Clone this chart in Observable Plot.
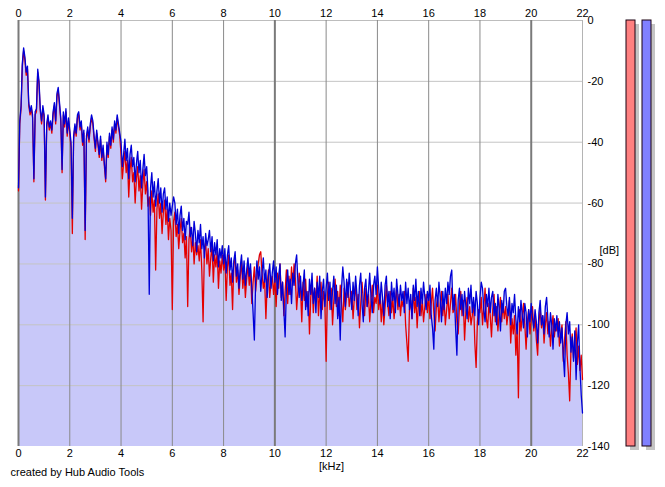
<!DOCTYPE html>
<html>
<head>
<meta charset="utf-8">
<script src="https://cdn.jsdelivr.net/npm/d3@7"></script>
<script src="https://cdn.jsdelivr.net/npm/@observablehq/plot@0.6"></script>
<style>
  body { margin: 0; background: white; }
  #wrap { position: relative; width: 665px; height: 487px; font-family: "Liberation Sans", Arial, sans-serif; }
  #wrap svg { position: absolute; top: 0; }
</style>
</head>
<body>
<div id="wrap"></div>
<script>
// Frequency bins (kHz), 0.05 kHz apart
const binStep = 0.05;
// Blue channel spectrum (dB), one row per kHz (20 bins), 0 .. 22 kHz
const blueDb = [
  -55, -33, -28, -14, -9, -12, -17, -15, -27, -30, -28, -31, -52, -30, -29, -16, -20, -29, -33, -28,
  -31, -58, -34, -31, -35, -33, -36, -30, -27, -33, -24, -22, -27, -32, -49, -30, -34, -29, -37, -32,
  -36, -40, -65, -38, -34, -37, -31, -30, -35, -33, -40, -36, -69, -38, -35, -39, -34, -31, -33, -38,
  -42, -36, -40, -44, -38, -45, -41, -47, -52, -40, -44, -37, -41, -35, -39, -33, -36, -31, -34, -37,
  -40, -48, -44, -39, -46, -42, -52, -44, -41, -48, -45, -53, -47, -43, -50, -46, -55, -49, -44, -51,
  -48, -56, -90, -55, -50, -58, -53, -61, -56, -52, -60, -55, -63, -57, -55, -62, -58, -66, -60, -64,
  -61, -58, -60, -67, -62, -70, -64, -61, -69, -65, -72, -66, -67, -63, -71, -68, -74, -66, -70, -76,
  -69, -73, -67, -75, -71, -78, -70, -74, -72, -69, -76, -71, -79, -73, -77, -72, -81, -75, -78, -74,
  -80, -75, -83, -77, -74, -82, -78, -86, -79, -76, -84, -80, -88, -81, -77, -85, -79, -87, -82, -78,
  -84, -80, -88, -96, -105, -86, -79, -85, -81, -89, -83, -78, -86, -82, -91, -84, -80, -88, -83, -79,
  -86, -81, -90, -84, -80, -92, -86, -95, -104, -88, -82, -90, -85, -93, -83, -87, -80, -77, -86, -91,
  -84, -92, -87, -82, -95, -89, -97, -85, -90, -83, -93, -88, -96, -86, -91, -84, -98, -89, -85, -94,
  -88, -83, -92, -86, -95, -89, -84, -93, -87, -98, -91, -105, -88, -81, -86, -94, -85, -91, -83, -89,
  -95, -86, -92, -84, -90, -97, -87, -83, -93, -99, -88, -85, -94, -89, -83, -91, -96, -87, -84, -90,
  -81, -88, -93, -86, -91, -97, -87, -84, -94, -89, -98, -86, -92, -88, -96, -85, -90, -94, -87, -92,
  -89, -96, -86, -93, -88, -95, -90, -98, -87, -92, -85, -94, -89, -97, -88, -93, -86, -91, -95, -89,
  -92, -87, -97, -101, -108, -92, -88, -94, -86, -91, -99, -89, -95, -88, -93, -86, -90, -84, -82, -95,
  -90, -101, -110, -92, -88, -95, -90, -97, -89, -94, -98, -88, -93, -87, -96, -91, -97, -89, -93, -100,
  -91, -86, -88, -95, -99, -90, -94, -88, -96, -91, -89, -97, -93, -100, -90, -95, -102, -92, -96, -89,
  -88, -94, -97, -91, -100, -93, -96, -90, -98, -103, -94, -99, -92, -97, -101, -93, -96, -104, -95, -99,
  -93, -98, -101, -95, -99, -106, -96, -92, -100, -97, -103, -94, -91, -98, -104, -96, -100, -108, -98, -102,
  -97, -104, -99, -106, -101, -110, -117, -100, -96, -103, -99, -109, -104, -112, -102, -118, -106, -100, -114, -123,
  -129
];
// Red channel spectrum (dB), same bins
const redDb = [
  -56, -34, -29, -15, -10, -13, -18, -16, -28, -31, -29, -32, -53, -31, -30, -17, -21, -30, -34, -29,
  -32, -59, -35, -32, -36, -34, -37, -31, -28, -34, -25, -23, -28, -33, -50, -31, -35, -30, -38, -33,
  -37, -42, -70, -39, -35, -38, -32, -31, -36, -34, -41, -37, -72, -39, -36, -40, -35, -32, -34, -39,
  -43, -37, -41, -45, -39, -46, -42, -48, -53, -41, -45, -38, -42, -36, -40, -34, -37, -32, -35, -38,
  -44, -52, -47, -43, -50, -46, -58, -49, -45, -53, -50, -60, -52, -48, -56, -51, -62, -54, -49, -57,
  -53, -61, -58, -64, -56, -63, -59, -82, -62, -57, -65, -60, -70, -63, -59, -67, -62, -72, -65, -69,
  -95, -66, -63, -71, -67, -75, -69, -65, -73, -70, -78, -71, -94, -72, -68, -76, -71, -80, -73, -77,
  -74, -79, -72, -82, -99, -76, -73, -80, -75, -84, -78, -74, -86, -77, -81, -76, -88, -79, -83, -77,
  -82, -78, -92, -81, -77, -87, -83, -95, -80, -78, -86, -82, -90, -84, -79, -88, -83, -91, -85, -80,
  -87, -82, -93, -86, -81, -89, -84, -80, -77, -76, -83, -88, -85, -98, -87, -82, -91, -86, -84, -90,
  -85, -94, -83, -88, -80, -91, -86, -97, -89, -82, -93, -84, -90, -81, -87, -80, -85, -95, -89, -83,
  -88, -99, -86, -92, -85, -94, -89, -103, -91, -86, -96, -88, -92, -84, -97, -90, -86, -95, -89, -93,
  -112, -90, -86, -95, -88, -100, -92, -85, -94, -89, -97, -87, -93, -99, -88, -95, -90, -86, -94, -91,
  -89, -98, -91, -87, -95, -90, -101, -93, -86, -92, -97, -88, -94, -90, -99, -92, -87, -96, -91, -93,
  -87, -95, -90, -99, -92, -100, -94, -87, -93, -97, -89, -96, -91, -98, -93, -88, -95, -90, -97, -92,
  -94, -89, -100, -106, -112, -95, -92, -98, -88, -96, -91, -101, -93, -89, -97, -92, -99, -94, -90, -96,
  -90, -98, -93, -88, -96, -102, -94, -91, -99, -93, -89, -97, -92, -100, -95, -90, -98, -93, -88, -96,
  -95, -90, -99, -103, -94, -89, -97, -92, -105, -96, -91, -99, -94, -100, -97, -92, -106, -114, -99, -95,
  -96, -91, -100, -94, -88, -98, -101, -93, -97, -104, -95, -90, -99, -94, -102, -96, -91, -99, -93, -98,
  -94, -100, -96, -92, -106, -98, -103, -97, -110, -101, -124, -95, -102, -97, -93, -100, -108, -99, -95, -103,
  -98, -94, -102, -97, -105, -110, -99, -95, -101, -97, -106, -100, -96, -103, -99, -107, -101, -97, -104, -100,
  -102, -98, -107, -103, -100, -112, -105, -99, -110, -116, -125, -108, -103, -111, -106, -101, -113, -107, -115, -110,
  -118
];
const xTicks = [0, 2, 4, 6, 8, 10, 12, 14, 16, 18, 20, 22];
const xMajorGrid = [0, 10, 20];
const xMinorGrid = [2, 4, 6, 8, 12, 14, 16, 18];
const yTicks = [0, -20, -40, -60, -80, -100, -120, -140];
const yGrid = [-20, -40, -60, -80, -100, -120];
const xDomain = [0, 22];
const yDomain = [-140, 0];
const channels = ["L", "R"];
const meterLevels = [0, 0];

const blue = blueDb.map((v, i) => ({f: +(i * binStep).toFixed(2), db: v}));
const red = redDb.map((v, i) => ({f: +(i * binStep).toFixed(2), db: v}));
const meters = channels.map((c, i) => ({ch: c, level: meterLevels[i]}));

const font = {fontFamily: "Liberation Sans, Arial, sans-serif", fontSize: "11px", background: "transparent"};
const fillColor = "#c8c8f9";

const main = Plot.plot({
  width: 665, height: 487,
  marginLeft: 18, marginRight: 83, marginTop: 20, marginBottom: 41,
  style: font,
  x: {domain: xDomain},
  y: {domain: yDomain},
  marks: [
    Plot.areaY(red, {x: "f", y1: yDomain[0], y2: "db", fill: fillColor, curve: "linear"}),
    Plot.areaY(blue, {x: "f", y1: yDomain[0], y2: "db", fill: fillColor, curve: "linear"}),
    Plot.ruleY(yGrid, {stroke: "#c4c4c4", strokeWidth: 1}),
    Plot.ruleY([yDomain[1]], {stroke: "#bdbdbd", strokeWidth: 1}),
    Plot.ruleX([xDomain[1]], {stroke: "#b4b4b4", strokeWidth: 1}),
    Plot.ruleX(xMinorGrid, {stroke: "#8a8a8a", strokeWidth: 1}),
    Plot.ruleX(xMajorGrid, {stroke: "#7a7a7a", strokeWidth: 2}),
    Plot.line(red, {x: "f", y: "db", stroke: "#e40000", strokeWidth: 1.3, curve: "linear"}),
    Plot.line(blue, {x: "f", y: "db", stroke: "#0000d8", strokeWidth: 1.3, curve: "linear"}),
    Plot.axisX({anchor: "top", ticks: xTicks, tickSize: 0, tickPadding: 4, tickFormat: String, label: null}),
    Plot.axisX({anchor: "bottom", ticks: xTicks, tickSize: 0, tickPadding: 3, tickFormat: String, label: null}),
    Plot.axisY({anchor: "right", ticks: yTicks, tickSize: 0, tickPadding: 5, tickFormat: String, label: null}),
    Plot.text(["[kHz]"], {frameAnchor: "bottom", dx: 31, dy: 23, fill: "black"}),
    Plot.text(["[dB]"], {frameAnchor: "right", textAnchor: "start", dx: 17, dy: 17, fill: "black"}),
    Plot.text(["created by Hub Audio Tools"], {frameAnchor: "bottom-left", textAnchor: "start", dx: -8, dy: 29, fill: "black"})
  ]
});
main.style.left = "0px";
main.style.background = "white";

const meter = Plot.plot({
  width: 45, height: 487,
  marginLeft: 0, marginRight: 0, marginTop: 20, marginBottom: 41,
  style: font,
  x: {domain: channels, range: [5, 31.5], paddingInner: 0.42, paddingOuter: 0, axis: null},
  y: {domain: yDomain, axis: null},
  color: {domain: channels, range: ["#ff8080", "#8080ff"]},
  marks: [
    Plot.barY(meters, {x: "ch", y1: yDomain[0], y2: "level", fill: "#c4c4c4", dx: 4, dy: 4}),
    Plot.barY(meters, {x: "ch", y1: yDomain[0], y2: "level", fill: "ch", stroke: "#1a0010", strokeWidth: 1})
  ]
});
meter.style.left = "620px";

const wrap = document.getElementById("wrap");
wrap.appendChild(main);
wrap.appendChild(meter);
</script>
</body>
</html>
